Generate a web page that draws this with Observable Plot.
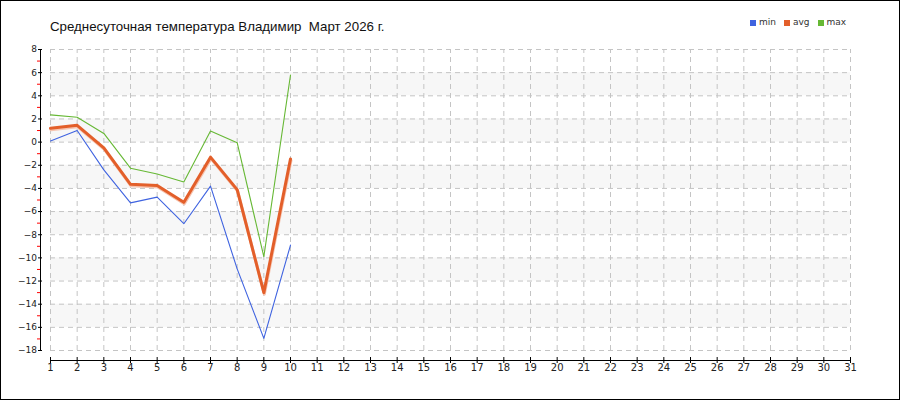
<!DOCTYPE html>
<html>
<head>
<meta charset="utf-8">
<script src="https://cdn.jsdelivr.net/npm/d3@7"></script>
<script src="https://cdn.jsdelivr.net/npm/@observablehq/plot@0.6"></script>
<style>
  body { margin: 0; background: #fff; }
  #chart { position: relative; width: 900px; height: 400px; overflow: hidden; background: #fff; }
  #chart svg { position: absolute; left: 0; top: 0; }
  #border { position: absolute; left: 0; top: 0; width: 900px; height: 400px; box-sizing: border-box; border: 1px solid #000; pointer-events: none; }
  #title { position: absolute; left: 50px; top: 19px; font: 13.3px "Liberation Sans", Arial, sans-serif; color: #111; white-space: pre; }
  #legend { position: absolute; left: 750px; top: 17px; font: 9px "DejaVu Sans", Verdana, sans-serif; color: #333; display: flex; }
  #legend .item { display: flex; align-items: center; margin-right: 8px; }
  #legend .sw { width: 6px; height: 6px; margin-right: 3px; margin-top: 1px; }
</style>
</head>
<body>
<div id="chart">
  <div id="title"></div>
  <div id="legend"></div>
  <div id="border"></div>
</div>
<script>
const title = "Среднесуточная температура Владимир  Март 2026 г.";
const days = [1, 2, 3, 4, 5, 6, 7, 8, 9, 10];
const tMin = [0.1, 1.0, -2.4, -5.25, -4.75, -7.05, -3.8, -10.95, -16.95, -8.9];
const tAvg = [1.2, 1.45, -0.5, -3.65, -3.75, -5.2, -1.3, -4.1, -13.0, -1.45];
const tMax = [2.35, 2.15, 0.75, -2.25, -2.75, -3.45, 0.95, -0.05, -9.9, 5.8];
const seriesNames = ["min", "avg", "max"];
const seriesColors = ["#3f63e0", "#e35f2a", "#66b834"];
const xTicks = [1,2,3,4,5,6,7,8,9,10,11,12,13,14,15,16,17,18,19,20,21,22,23,24,25,26,27,28,29,30,31];
const yMajor = [-18,-16,-14,-12,-10,-8,-6,-4,-2,0,2,4,6,8];
const yMinor = [-17,-15,-13,-11,-9,-7,-5,-3,-1,1,3,5,7];
const bands = [[4,6],[0,2],[-4,-2],[-8,-6],[-12,-10],[-16,-14]];
const xDomain = [1, 31];
const yDomain = [-18, 8];

const rows = [];
[tMin, tAvg, tMax].forEach((arr, i) => arr.forEach((v, j) => rows.push({day: days[j], value: v, series: seriesNames[i]})));
const bandRows = bands.map(([a, b]) => ({y1: a, y2: b}));
const avgRows = rows.filter(d => d.series === "avg");

document.getElementById("title").textContent = title;
const leg = document.getElementById("legend");
seriesNames.forEach((n, i) => {
  const it = document.createElement("div"); it.className = "item";
  const sw = document.createElement("div"); sw.className = "sw"; sw.style.background = seriesColors[i];
  const tx = document.createElement("span"); tx.textContent = n;
  it.appendChild(sw); it.appendChild(tx); leg.appendChild(it);
});

const plot = Plot.plot({
  width: 900, height: 400,
  marginLeft: 40, marginRight: 50, marginTop: 49, marginBottom: 40,
  insetLeft: 10, insetBottom: 10,
  style: {fontFamily: "'DejaVu Sans', Verdana, sans-serif", fontSize: "9px", color: "#222", background: "transparent"},
  x: {domain: xDomain, axis: null},
  y: {domain: yDomain, axis: null},
  color: {domain: seriesNames, range: seriesColors},
  marks: [
    Plot.rect(bandRows, {x1: xDomain[0], x2: xDomain[1], y1: "y1", y2: "y2", fill: "#f7f7f7"}),
    Plot.ruleY(yMajor, {x1: xDomain[0], x2: xDomain[1], stroke: "#c4c4c4", strokeDasharray: "5,4"}),
    Plot.ruleX(xTicks, {y1: yDomain[0], y2: yDomain[1], stroke: "#c4c4c4", strokeDasharray: "5,4"}),
    Plot.ruleY([yDomain[0]], {x1: xDomain[0], x2: xDomain[1], dy: 10, stroke: "#000"}),
    Plot.ruleX([xDomain[0]], {y1: yDomain[0], y2: yDomain[1], dx: -10, stroke: "#000"}),
    Plot.axisY(yMinor, {anchor: "left", label: null, tickSize: 3, color: "#ff0000", tickFormat: () => ""}),
    Plot.axisY(yMajor, {anchor: "left", label: null, tickSize: 4, dx: 2, tickPadding: 1.5, stroke: "#000", fill: "#222", fontSize: 9}),
    Plot.axisX(xTicks, {anchor: "bottom", label: null, tickSize: 6, dy: -3, tickPadding: 0, stroke: "#000", fill: "#222", fontSize: 10}),
    Plot.line(avgRows, {x: "day", y: "value", stroke: "#f6c4b0", strokeWidth: 3, dy: 1.5, dx: 0.5}),
    Plot.line(rows, {x: "day", y: "value", z: "series", stroke: "series",
      strokeWidth: d => d.series === "avg" ? 3 : 1.1})
  ]
});
document.getElementById("chart").insertBefore(plot, document.getElementById("title"));
</script>
</body>
</html>
